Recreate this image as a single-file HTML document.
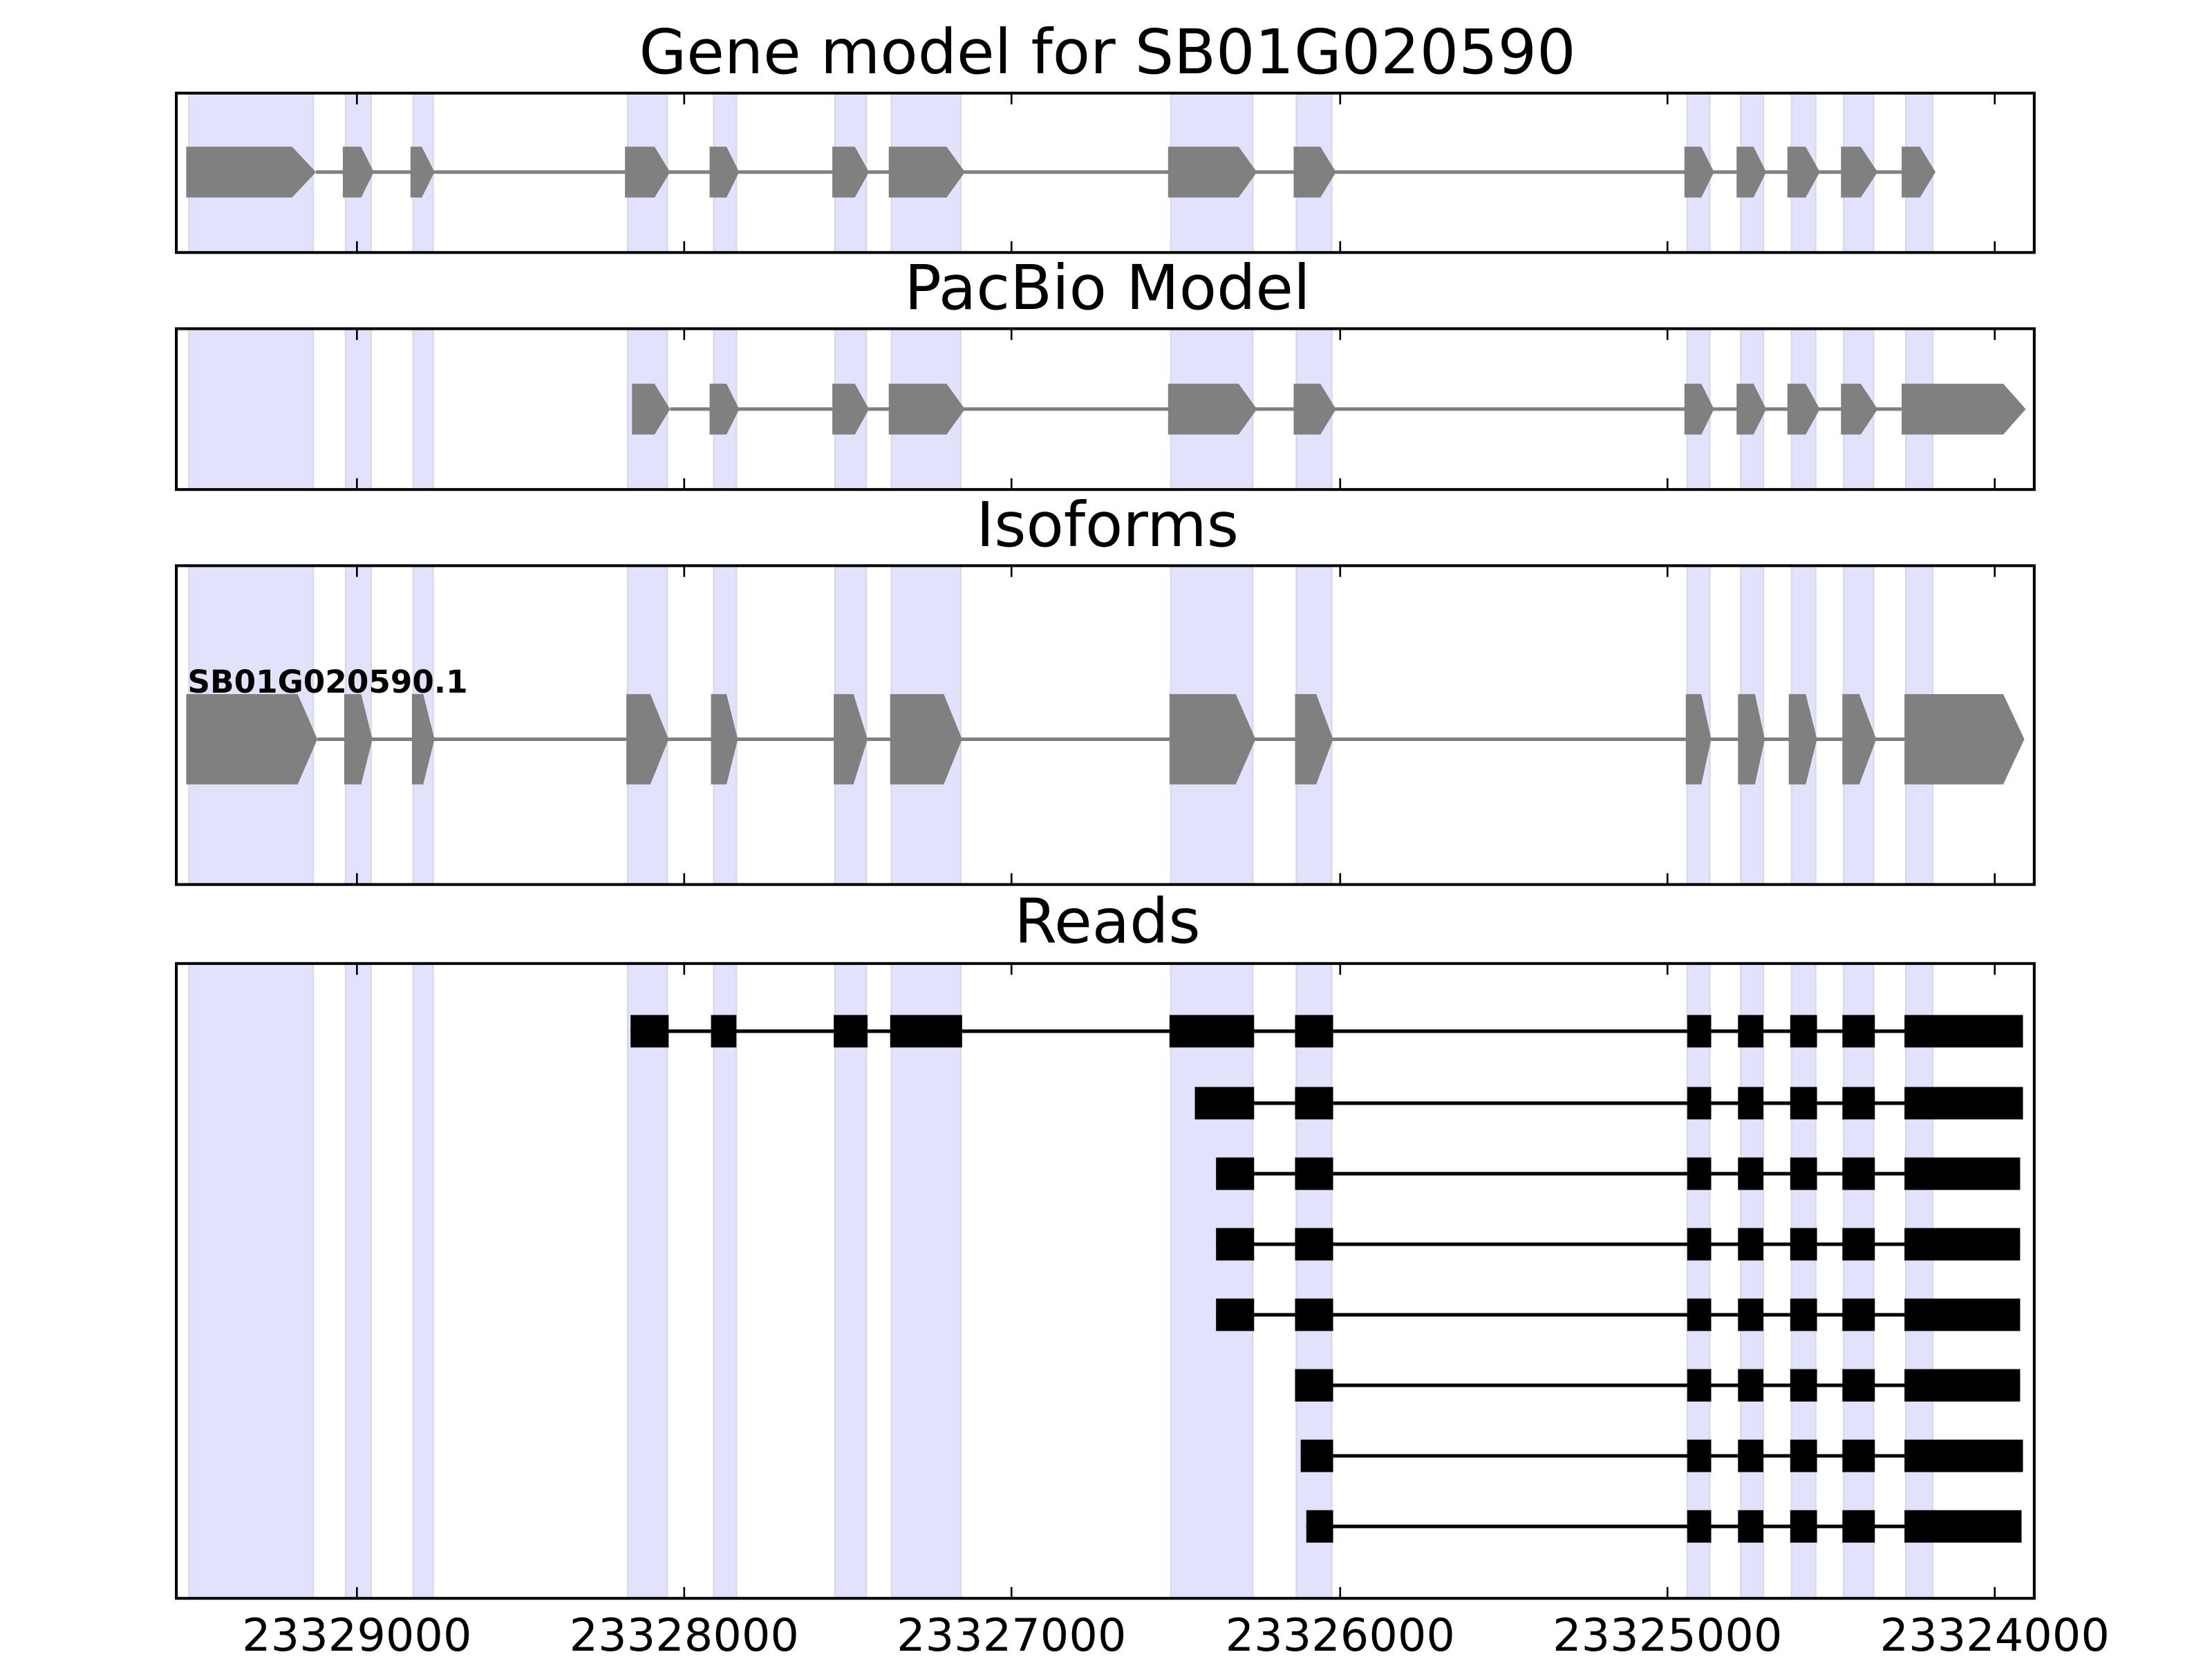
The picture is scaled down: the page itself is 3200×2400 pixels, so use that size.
<!DOCTYPE html>
<html><head><meta charset="utf-8"><style>html,body{margin:0;padding:0;background:#fff}svg{display:block}</style></head>
<body>
<svg width="3200" height="2400" viewBox="0 0 1568 1176" xmlns="http://www.w3.org/2000/svg" font-family="DejaVu Sans, Liberation Sans, sans-serif">
<rect width="1568" height="1176" fill="#fff"/>
<g id="all"></g>
<script>
(function(){
var NS="http://www.w3.org/2000/svg";
var root=document.getElementById("all");
function el(t,a,p){var e=document.createElementNS(NS,t);for(var k in a)e.setAttribute(k,a[k]);(p||root).appendChild(e);return e;}
var axes=[[66,179],[233,347],[401,627],[683,1133]];
var bands=[[134,222],[245,263],[293,307],[445,473],[506,522],[592,614],[632,681],[830,888],[919,944],[1196,1212],[1234,1250],[1270,1287],[1307,1328],[1351,1370]];
var ticks=[253,485,717,950,1182,1414];
axes.forEach(function(a){
  bands.forEach(function(b){el("rect",{x:b[0],y:a[0],width:b[1]-b[0],height:a[1]-a[0],fill:"#e2e2fc",stroke:"#d8d8ee","stroke-width":1.2});});
});
function arrows(list,cy,h,x0,x1){
  el("line",{x1:x0,y1:cy,x2:x1,y2:cy,stroke:"#808080","stroke-width":2.5});
  list.forEach(function(e){
    var s=e[0],b=e[1],t=e[2];
    el("polygon",{points:s+","+(cy-h)+" "+b+","+(cy-h)+" "+t+","+cy+" "+b+","+(cy+h)+" "+s+","+(cy+h),fill:"#808080"});
  });
}
var g1=[[132,207,224],[243,256,265],[291,299,308],[443,464,475],[503,515,524],[590,606,616],[630,671,684],[828,878,891],[917,936,947],[1194,1206,1215],[1231,1243,1252],[1267,1280,1290],[1305,1319,1331],[1348,1361,1372]];
arrows(g1,122,18,224,1348);
var g2=[[448,464,475],[503,515,524],[590,606,616],[630,671,684],[828,878,891],[917,936,947],[1194,1206,1215],[1231,1243,1252],[1267,1280,1290],[1305,1319,1331],[1348,1420,1436]];
arrows(g2,290,18,475,1348);
var g3=[[132,211,225],[244,256,264],[292,300,308],[444,461,474],[504,515,523],[591,605,615],[631,669,682],[829,876,890],[918,933,945],[1195,1206,1213],[1232,1244,1251],[1268,1280,1288],[1306,1318,1330],[1350,1420,1435]];
arrows(g3,524,32,225,1350);
var t=el("text",{x:133,y:491,"font-size":22.2,"font-weight":"bold",fill:"#000"});t.textContent="SB01G020590.1";
var rightCommon=[[1196,1213],[1232,1250],[1269,1288],[1306,1329]];
var rows=[
 [731,[[447,474],[504,522],[591,615],[631,682],[829,889],[918,945]],1434],
 [782,[[847,889],[918,945]],1434],
 [832,[[862,889],[918,945]],1432],
 [882,[[862,889],[918,945]],1432],
 [932,[[862,889],[918,945]],1432],
 [982,[[918,945]],1432],
 [1032,[[922,945]],1434],
 [1082,[[926,945]],1433]
];
rows.forEach(function(r){
  var ex=r[1].concat(rightCommon).concat([[1350,r[2]]]);
  el("line",{x1:ex[0][0],y1:r[0],x2:r[2],y2:r[0],stroke:"#000","stroke-width":2.5});
  ex.forEach(function(e){el("rect",{x:e[0],y:r[0]-11.5,width:e[1]-e[0],height:23,fill:"#000"});});
});
axes.forEach(function(a){
  ticks.forEach(function(x){
    el("line",{x1:x,y1:a[0],x2:x,y2:a[0]+8,stroke:"#000","stroke-width":1.3});
    el("line",{x1:x,y1:a[1],x2:x,y2:a[1]-8,stroke:"#000","stroke-width":1.3});
  });
  el("rect",{x:125,y:a[0],width:1317,height:a[1]-a[0],fill:"none",stroke:"#000","stroke-width":2});
});
var titles=[["Gene model for SB01G020590",52],["PacBio Model",219],["Isoforms",387],["Reads",668]];
titles.forEach(function(tt){var e=el("text",{x:785,y:tt[1],"font-size":43.5,"text-anchor":"middle",fill:"#000"});e.textContent=tt[0];});
var labs=["23329000","23328000","23327000","23326000","23325000","23324000"];
ticks.forEach(function(x,i){var e=el("text",{x:x,y:1170,"font-size":32,"text-anchor":"middle",fill:"#000"});e.textContent=labs[i];});
})();
</script>
</svg>
</body></html>
